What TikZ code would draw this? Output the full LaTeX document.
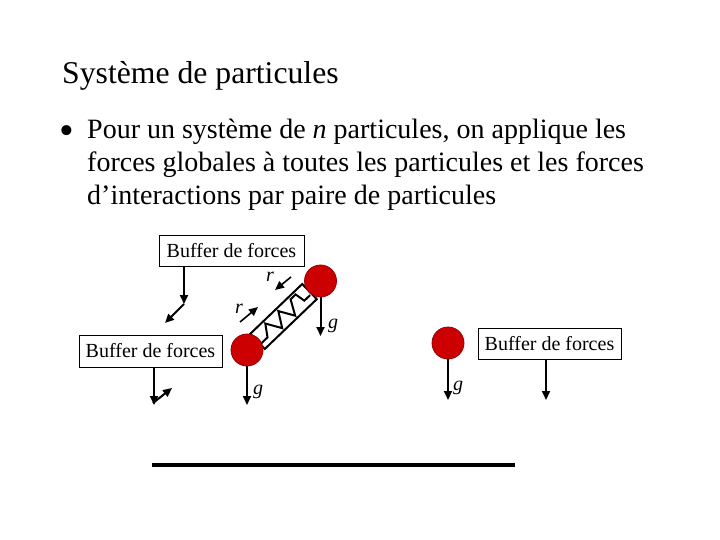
\documentclass[tikz,border=0pt]{standalone}
\usepackage{fontspec}
\setmainfont{Liberation Serif}
\usetikzlibrary{arrows.meta,calc}
\definecolor{partred}{RGB}{204,0,0}
\definecolor{partedge}{RGB}{150,0,0}
\tikzset{
  bufbox/.style={draw=black,line width=1pt,fill=white,minimum width=145pt,minimum height=31pt,inner sep=0pt,font=\fontsize{20}{22}\selectfont},
  particle/.style={circle,fill=partred,draw=partedge,line width=0.8pt,minimum size=32pt,inner sep=0pt},
  forcearr/.style={line width=2pt,-{Triangle[length=9pt,width=8pt]}},
  lbl/.style={font=\fontsize{20}{22}\selectfont\itshape,inner sep=0pt},
}
\begin{document}
\begin{tikzpicture}[x=1pt,y=-1pt]
\useasboundingbox (0,0) rectangle (720,540);
% title and text
\node[anchor=base west,inner sep=0pt,font=\fontsize{31.7}{36}\selectfont] (title) at (62,84) {Système de particules};
\node[anchor=center,inner sep=0pt,font=\fontsize{42}{42}\selectfont] (bullet) at (67,135.5) {•};
\node[anchor=base west,inner sep=0pt,font=\fontsize{28}{33}\selectfont] (l1) at (87,139) {Pour un système de \textit{n} particules, on applique les};
\node[anchor=base west,inner sep=0pt,font=\fontsize{28}{33}\selectfont] (l2) at (87,172) {forces globales à toutes les particules et les forces};
\node[anchor=base west,inner sep=0pt,font=\fontsize{28}{33}\selectfont] (l3) at (87,205) {d’interactions par paire de particules};
% buffers
\node[bufbox] (b1) at (231.5,250.5) {Buffer de forces};
\node[bufbox,minimum width=143pt,minimum height=32pt] (b2) at (150.5,351) {Buffer de forces};
\node[bufbox,minimum width=143pt] (b3) at (549.5,343.5) {Buffer de forces};
% spring
\begin{scope}[shift={(283.5,316.5)},rotate=43.8]
  \draw[line width=2pt,fill=white,line join=miter] (-36,-10.5) -- (36,-10.5) -- (36,10.5) -- (-36,10.5) -- cycle;
  \draw[line width=2pt,line join=miter] (-36,4) -- (-26,4) -- (-18,-7.5) -- (-9,7.5) -- (0,-7.5) -- (9,7.5) -- (17,-7.5) -- (24,-7.5) -- (26,3) -- (34,3);
\end{scope}
% particles
\node[particle] (p1) at (320.5,281) {};
\node[particle] (p2) at (247,350) {};
\node[particle] (p3) at (448,343) {};
% buffer arrows
\coordinate (c1) at (184,304);
\coordinate (c1b) at (165,323);
\draw[forcearr] (c1 |- b1.south) -- (c1);
\draw[forcearr] (c1) -- (c1b);
\coordinate (c2) at (154,405);
\coordinate (c2a) at (153,403);
\coordinate (c2b) at (172,388);
\draw[forcearr] (c2 |- b2.south) -- (c2);
\draw[forcearr] (c2a) -- (c2b);
\coordinate (c3) at (546,400);
\draw[forcearr] (c3 |- b3.south) -- (c3);
% gravity arrows
\coordinate (g1) at (320.5,336);
\coordinate (g2) at (247,405);
\coordinate (g3) at (448,400);
\draw[forcearr] (p1.south) -- (g1);
\draw[forcearr] (p2.south) -- (g2);
\draw[forcearr] (p3.south) -- (g3);
\node[lbl] (lg1) at (333,326) {g};
\node[lbl] (lg2) at (258,392) {g};
\node[lbl] (lg3) at (458,388) {g};
% spring forces
\coordinate (r1s) at (291,277);
\coordinate (r1e) at (275,290);
\coordinate (r2s) at (240,322);
\coordinate (r2e) at (258,307);
\draw[forcearr,line width=1.6pt] (r1s) -- (r1e);
\draw[forcearr,line width=1.6pt] (r2s) -- (r2e);
\node[lbl] (lr1) at (270,277) {r};
\node[lbl] (lr2) at (239,309) {r};
% bottom line
\coordinate (bl) at (152,465);
\coordinate (br) at (515,465);
\draw[line width=4pt] (bl) -- (br);
\end{tikzpicture}
\end{document}
